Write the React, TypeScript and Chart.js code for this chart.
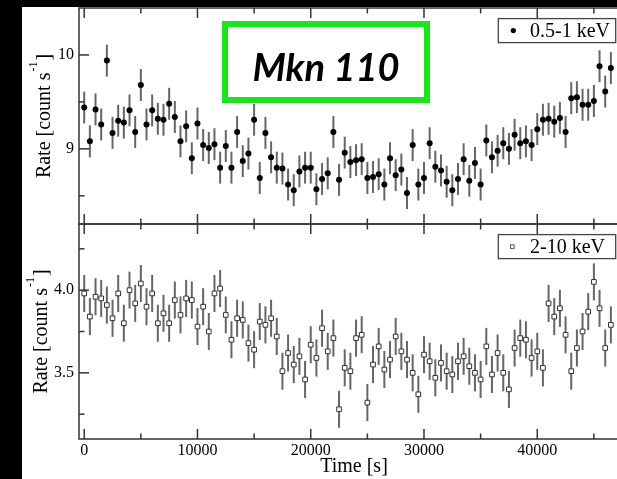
import React, { useEffect, useRef } from 'react';
import { Chart, registerables } from 'chart.js';

Chart.register(...registerables);

// ---------- data ----------
const timeSec = [
  0, 500, 1000, 1500, 2000, 2500, 3000, 3500, 4000, 4500,
  5000, 5500, 6000, 6500, 7000, 7500, 8000, 8500, 9000, 9500,
  10000, 10500, 11000, 11500, 12000, 12500, 13000, 13500, 14000, 14500,
  15000, 15500, 16000, 16500, 17000, 17500, 18000, 18500, 19000, 19500,
  20000, 20500, 21000, 21500, 22000, 22500, 23000, 23500, 24000, 24500,
  25000, 25500, 26000, 26500, 27000, 27500, 28000, 28500, 29000, 29500,
  30000, 30500, 31000, 31500, 32000, 32500, 33000, 33500, 34000, 34500,
  35000, 35500, 36000, 36500, 37000, 37500, 38000, 38500, 39000, 39500,
  40000, 40500, 41000, 41500, 42000, 42500, 43000, 43500, 44000, 44500,
  45000, 45500, 46000, 46500,
];

const softRate = [
  9.44, 9.08, 9.42, 9.26, 9.94, 9.17, 9.30, 9.28, 9.41, 9.18,
  9.68, 9.26, 9.41, 9.32, 9.31, 9.48, 9.34, 9.08, 9.24, 8.90,
  9.27, 9.04, 9.01, 9.05, 8.80, 9.03, 8.80, 9.18, 8.87, 8.95,
  9.31, 8.69, 9.17, 8.91, 8.80, 8.79, 8.62, 8.56, 8.76, 8.80,
  8.80, 8.57, 8.68, 8.74, 9.18, 8.67, 8.96, 8.86, 8.88, 8.89,
  8.69, 8.70, 8.73, 8.62, 8.90, 8.72, 8.78, 8.53, 9.04, 8.62,
  8.69, 9.06, 8.81, 8.77, 8.65, 8.56, 8.68, 8.89, 8.66, 8.85,
  8.62, 9.09, 8.91, 8.98, 9.06, 9.00, 9.15, 9.06, 9.08, 9.04,
  9.21, 9.31, 9.32, 9.29, 9.33, 9.18, 9.54, 9.55, 9.47, 9.47,
  9.51, 9.88, 9.61, 9.86,
];

const hardRate = [
  3.98, 3.84, 3.96, 3.95, 3.91, 3.83, 3.98, 3.80, 4.00, 3.92,
  4.04, 3.90, 3.98, 3.80, 3.86, 3.80, 3.94, 3.85, 3.95, 3.94,
  3.78, 3.90, 3.75, 3.98, 4.01, 3.85, 3.70, 3.83, 3.82, 3.68,
  3.64, 3.81, 3.79, 3.83, 3.72, 3.51, 3.62, 3.55, 3.60, 3.46,
  3.67, 3.59, 3.77, 3.63, 3.71, 3.28, 3.53, 3.51, 3.71, 3.73,
  3.32, 3.55, 3.66, 3.52, 3.58, 3.72, 3.63, 3.58, 3.50, 3.37,
  3.61, 3.57, 3.47, 3.56, 3.51, 3.49, 3.57, 3.60, 3.54, 3.50,
  3.46, 3.66, 3.49, 3.62, 3.50, 3.40, 3.65, 3.71, 3.70, 3.59,
  3.63, 3.53, 3.92, 3.84, 3.89, 3.73, 3.51, 3.65, 3.75, 3.87,
  4.05, 3.89, 3.65, 3.79,
];

const softErr = 0.17;
const hardErr = 0.112;

const xTickValues = [0, 10000, 20000, 30000, 40000];
const xMinorValues = [5000, 15000, 25000, 35000, 45000];
const softYTicks = [9, 10];
const softYMinor = [8.5, 9.5];
const hardYTicks = [3.5, 4.0];
const hardYMinor = [3.25, 3.75, 4.25];

const softLabel = '0.5-1 keV';
const hardLabel = '2-10 keV';
const sourceName = 'Mkn 110';
const xTitle = 'Time [s]';
const yTitleMain = 'Rate [count s';
const yTitleSup = '-1';
const yTitleEnd = ']';

// ---------- styling ----------
const serif = '"Liberation Serif", "Times New Roman", Times, serif';
const frameColor = '#333333';
const errColor = '#666666';

function drawRateTitle(ctx: CanvasRenderingContext2D, xBase: number, yCenter: number) {
  ctx.save();
  ctx.translate(xBase, yCenter);
  ctx.rotate(-Math.PI / 2);
  ctx.fillStyle = '#000';
  ctx.textBaseline = 'alphabetic';
  ctx.textAlign = 'left';
  ctx.font = `20px ${serif}`;
  const w1 = ctx.measureText(yTitleMain).width;
  const w3 = ctx.measureText(yTitleEnd).width;
  ctx.font = `12px ${serif}`;
  const w2 = ctx.measureText(yTitleSup).width;
  const total = w1 + w2 + w3 + 2;
  let cx = -total / 2;
  ctx.font = `20px ${serif}`;
  ctx.fillText(yTitleMain, cx, 0);
  cx += w1 + 1;
  ctx.font = `12px ${serif}`;
  ctx.fillText(yTitleSup, cx, -13);
  cx += w2 + 1;
  ctx.font = `20px ${serif}`;
  ctx.fillText(yTitleEnd, cx, 0);
  ctx.restore();
}

function drawLegend(
  ctx: CanvasRenderingContext2D,
  x0: number,
  top: number,
  w: number,
  h: number,
  label: string,
  marker: 'dot' | 'square'
) {
  ctx.save();
  ctx.fillStyle = '#fff';
  ctx.fillRect(x0, top, w, h);
  ctx.strokeStyle = '#444';
  ctx.lineWidth = 1.3;
  ctx.strokeRect(x0, top, w, h);
  const cy = top + h / 2;
  if (marker === 'dot') {
    ctx.fillStyle = '#000';
    ctx.beginPath();
    ctx.arc(x0 + 15, cy, 2.6, 0, Math.PI * 2);
    ctx.fill();
  } else {
    ctx.fillStyle = '#fff';
    ctx.strokeStyle = '#555';
    ctx.lineWidth = 1;
    ctx.fillRect(x0 + 12.2, cy - 1.8, 3.6, 3.6);
    ctx.strokeRect(x0 + 12.2, cy - 1.8, 3.6, 3.6);
  }
  ctx.fillStyle = '#000';
  ctx.font = `20px ${serif}`;
  ctx.textBaseline = 'alphabetic';
  ctx.textAlign = 'left';
  ctx.fillText(label, x0 + 31.7, cy + 6.7);
  ctx.restore();
}

const panels = [
  { axis: 'yU', err: softErr, major: softYTicks, minor: softYMinor, label: softLabel, marker: 'dot' as const, titleX: 28 },
  { axis: 'yL', err: hardErr, major: hardYTicks, minor: hardYMinor, label: hardLabel, marker: 'square' as const, titleX: 25 },
];

const decorPlugin = {
  id: 'decor',
  beforeDatasetsDraw(chart: any) {
    const ctx: CanvasRenderingContext2D = chart.ctx;
    const xs = chart.scales.x;
    ctx.save();
    ctx.strokeStyle = errColor;
    ctx.lineWidth = 2;
    chart.data.datasets.forEach((ds: any, di: number) => {
      const p = panels[di];
      const ys = chart.scales[p.axis];
      ds.data.forEach((pt: any) => {
        const px = xs.getPixelForValue(pt.x);
        ctx.beginPath();
        ctx.moveTo(px, ys.getPixelForValue(pt.y - p.err));
        ctx.lineTo(px, ys.getPixelForValue(pt.y + p.err));
        ctx.stroke();
      });
    });
    ctx.restore();
  },
  afterDraw(chart: any) {
    const ctx: CanvasRenderingContext2D = chart.ctx;
    const xs = chart.scales.x;
    const { left, right } = chart.chartArea;
    ctx.save();
    ctx.strokeStyle = frameColor;
    ctx.lineWidth = 1.5;
    panels.forEach((p) => {
      const ys = chart.scales[p.axis];
      const top = ys.top;
      const bottom = ys.bottom;
      ctx.strokeRect(left, top, right - left, bottom - top);
      const seg = (x1: number, y1: number, x2: number, y2: number) => {
        ctx.beginPath();
        ctx.moveTo(x1, y1);
        ctx.lineTo(x2, y2);
        ctx.stroke();
      };
      xTickValues.forEach((v) => {
        const px = xs.getPixelForValue(v);
        seg(px, top, px, top + 10);
        seg(px, bottom, px, bottom - 10);
      });
      xMinorValues.forEach((v) => {
        const px = xs.getPixelForValue(v);
        seg(px, top, px, top + 5.5);
        seg(px, bottom, px, bottom - 5.5);
      });
      p.major.forEach((v) => {
        const py = ys.getPixelForValue(v);
        seg(left, py, left + 10, py);
        seg(right, py, right - 10, py);
      });
      p.minor.forEach((v) => {
        const py = ys.getPixelForValue(v);
        seg(left, py, left + 5.5, py);
        seg(right, py, right - 5.5, py);
      });
      drawLegend(ctx, left + 419.3, top + 10.6, 117.4, 24, p.label, p.marker);
      drawRateTitle(ctx, p.titleX, (top + bottom) / 2);
    });
    ctx.restore();
  },
};

export default function App() {
  const canvasRef = useRef<HTMLCanvasElement | null>(null);

  useEffect(() => {
    const canvas = canvasRef.current;
    if (!canvas) return;
    const yCommon = (min: number, max: number, ticks: number[], weight: number, stackWeight: number, digits: number) => ({
      type: 'linear',
      position: 'left',
      stack: 'panels',
      stackWeight,
      weight,
      min,
      max,
      grid: { display: false, drawTicks: false },
      border: { display: false },
      ticks: {
        padding: 5,
        color: '#000',
        font: { family: serif, size: 16 },
        callback: (v: any) => Number(v).toFixed(digits),
      },
      afterBuildTicks: (s: any) => {
        s.ticks = ticks.map((v) => ({ value: v }));
      },
      afterFit: (s: any) => {
        s.width = 57;
        s.paddingTop = 0;
        s.paddingBottom = 0;
      },
    });

    const chart = new Chart(canvas, {
      type: 'scatter',
      data: {
        datasets: [
          {
            label: softLabel,
            data: timeSec.map((t, i) => ({ x: t, y: softRate[i] })),
            yAxisID: 'yU',
            pointStyle: 'circle',
            pointRadius: 3,
            backgroundColor: '#000',
            borderColor: '#000',
            borderWidth: 0,
          },
          {
            label: hardLabel,
            data: timeSec.map((t, i) => ({ x: t, y: hardRate[i] })),
            yAxisID: 'yL',
            pointStyle: 'rect',
            pointRadius: 3.3,
            backgroundColor: '#fff',
            borderColor: '#333',
            borderWidth: 1,
          },
        ],
      },
      options: {
        responsive: false,
        animation: false,
        devicePixelRatio: 1,
        layout: { padding: { top: 8, right: 33, bottom: 0, left: 0 } },
        plugins: {
          legend: { display: false },
          tooltip: { enabled: false },
        },
        scales: {
          x: {
            type: 'linear',
            position: 'bottom',
            min: -460,
            max: 48100,
            grid: { display: false, drawTicks: false },
            border: { display: false },
            ticks: {
              padding: 2,
              maxRotation: 0,
              autoSkip: false,
              color: '#000',
              font: { family: serif, size: 16 },
              callback: (v: any) => String(v),
            },
            title: {
              display: true,
              text: xTitle,
              color: '#000',
              font: { family: serif, size: 20 },
              padding: 0,
            },
            afterBuildTicks: (s: any) => {
              s.ticks = xTickValues.map((v) => ({ value: v }));
            },
            afterFit: (s: any) => {
              s.height = 40;
              s.paddingLeft = 0;
              s.paddingRight = 0;
            },
          },
          yU: yCommon(8.2, 10.5, softYTicks, 2, 216, 0),
          yL: yCommon(3.1, 4.4, hardYTicks, 1, 215, 1),
        } as any,
      },
      plugins: [decorPlugin],
    } as any);
    return () => chart.destroy();
  }, []);

  return (
    <div
      style={{
        position: 'fixed',
        left: 0,
        top: 0,
        width: 617,
        height: 479,
        overflow: 'hidden',
        background: '#000',
      }}
    >
      <div style={{ position: 'absolute', left: 22, top: 7, right: 0, bottom: 0, background: '#fff' }} />
      <canvas
        ref={canvasRef}
        width={640}
        height={479}
        style={{ position: 'absolute', left: 22, top: 0, width: 640, height: 479 }}
      />
      <div
        style={{
          position: 'absolute',
          left: 222,
          top: 21,
          width: 208,
          height: 82,
          boxSizing: 'border-box',
          border: '6px solid #1be41b',
          display: 'flex',
          alignItems: 'center',
          justifyContent: 'center',
          paddingTop: 8,
          fontFamily: 'Lato, "DejaVu Sans", sans-serif',
          fontStyle: 'italic',
          fontWeight: 700,
          fontSize: 38,
          color: '#000',
          lineHeight: 1,
        }}
      >
        {sourceName}
      </div>
    </div>
  );
}
